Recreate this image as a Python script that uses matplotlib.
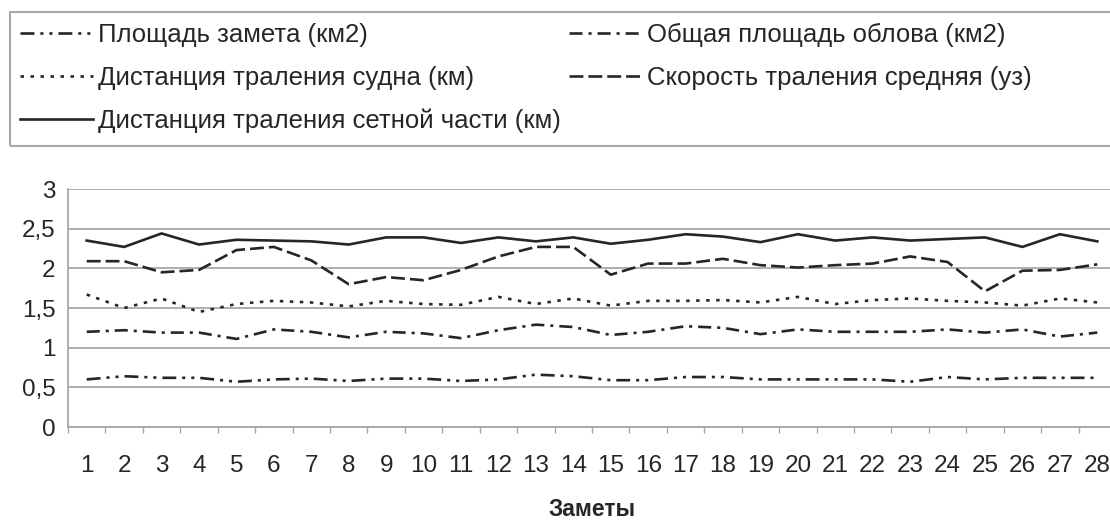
import matplotlib
matplotlib.use("Agg")
import matplotlib.pyplot as plt
from matplotlib.patches import Rectangle
import numpy as np

plt.rcParams["font.family"] = ["Liberation Sans", "DejaVu Sans"]
plt.rcParams["lines.scale_dashes"] = False

# --- data ---
zamety = list(range(1, 29))

ploshchad_zameta = [0.60, 0.64, 0.62, 0.62, 0.57, 0.60, 0.61, 0.58, 0.61, 0.61,
                    0.58, 0.60, 0.66, 0.64, 0.59, 0.59, 0.63, 0.63, 0.60, 0.60,
                    0.60, 0.60, 0.57, 0.63, 0.60, 0.62, 0.62, 0.62]
obshchaya_ploshchad = [1.20, 1.22, 1.19, 1.19, 1.11, 1.23, 1.20, 1.13, 1.20, 1.18,
                       1.12, 1.22, 1.29, 1.26, 1.16, 1.20, 1.27, 1.25, 1.17, 1.23,
                       1.20, 1.20, 1.20, 1.23, 1.19, 1.23, 1.14, 1.19]
distantsiya_sudna = [1.67, 1.50, 1.62, 1.45, 1.55, 1.59, 1.57, 1.52, 1.59, 1.55,
                     1.54, 1.64, 1.55, 1.62, 1.53, 1.59, 1.59, 1.60, 1.57, 1.64,
                     1.55, 1.60, 1.62, 1.59, 1.57, 1.53, 1.62, 1.57]
skorost = [2.09, 2.09, 1.95, 1.98, 2.23, 2.27, 2.10, 1.80, 1.89, 1.85,
           1.98, 2.15, 2.27, 2.27, 1.92, 2.06, 2.06, 2.12, 2.04, 2.01,
           2.04, 2.06, 2.15, 2.08, 1.71, 1.97, 1.98, 2.05]
distantsiya_seti = [2.35, 2.27, 2.44, 2.30, 2.36, 2.35, 2.34, 2.30, 2.39, 2.39,
                    2.32, 2.39, 2.34, 2.39, 2.31, 2.36, 2.43, 2.40, 2.33, 2.43,
                    2.35, 2.39, 2.35, 2.37, 2.39, 2.27, 2.43, 2.34]

yticks = [0, 0.5, 1, 1.5, 2, 2.5, 3]
ytick_labels = ["0", "0,5", "1", "1,5", "2", "2,5", "3"]

INK = "#262626"
GRID = "#a8a8a8"
FS = 17.5
LEG_FS = 18.5

W, H = 1110, 521
fig = plt.figure(figsize=(W / 100, H / 100), dpi=100)

# plot area in pixels: left 68, top 189, bottom 427, right past the edge
ax = fig.add_axes([68 / W, 1 - 427 / H, (1116 - 68) / W, (427 - 189) / H])

series = [
    ("Площадь замета (км2)", ploshchad_zameta, (0, (10, 4.3, 2.2, 4.3, 2.2, 4.3))),
    ("Дистанция траления судна (км)", distantsiya_sudna, (0, (2.5, 4.7))),
    ("Дистанция траления сетной части (км)", distantsiya_seti, "-"),
    ("Общая площадь облова (км2)", obshchaya_ploshchad, (0, (9.4, 4.3, 2.2, 4.3))),
    ("Скорость траления средняя (уз)", skorost, (0, (10, 3.6))),
]
handles = []
for label, vals, ls in series:
    h, = ax.plot(zamety, vals, color=INK, lw=1.9, ls=ls, label=label)
    handles.append(h)

ax.set_xlim(0.5, 28.5)
ax.set_ylim(0, 3)
ax.set_yticks(yticks)
ax.set_yticklabels(ytick_labels)
ax.set_xticks(zamety)
ax.set_xticks(np.arange(0.5, 29, 1), minor=True)
ax.yaxis.grid(True, color=GRID, lw=1.3)
ax.set_axisbelow(True)
for side in ("top", "right"):
    ax.spines[side].set_visible(False)
for side in ("left", "bottom"):
    ax.spines[side].set_color(GRID)
    ax.spines[side].set_linewidth(1.3)

ax.tick_params(axis="x", which="major", length=0, pad=20, labelsize=FS, labelcolor=INK)
ax.tick_params(axis="x", which="minor", length=4, color=GRID, width=1)
ax.tick_params(axis="y", length=0, pad=9, labelsize=FS, labelcolor=INK)
ax.set_xlabel("Заметы", fontsize=FS - 1, fontweight="bold", color=INK, labelpad=15)

# legend block at the top
fig.patches.append(Rectangle((10 / W, 1 - 146 / H), 1.0, 134 / H,
                             transform=fig.transFigure, fill=False,
                             edgecolor=GRID, lw=1.5))
fig.legend(handles=handles, loc="upper left", ncol=2,
           bbox_to_anchor=(2 / W, 1 - 5 / H), frameon=False,
           fontsize=LEG_FS, labelcolor=INK, handlelength=2.84, handletextpad=0.2,
           columnspacing=0.32, labelspacing=0.72, borderpad=0.2)

fig.savefig("out.png", dpi=100)
